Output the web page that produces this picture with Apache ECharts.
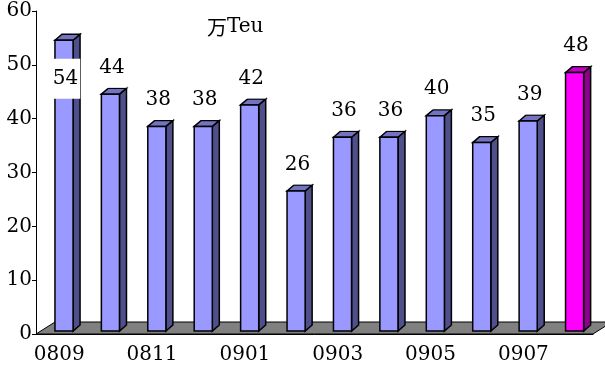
<!DOCTYPE html>
<html>
<head>
<meta charset="utf-8">
<script src="https://cdn.jsdelivr.net/npm/echarts@6/dist/echarts.min.js"></script>
<style>
  html, body { margin: 0; padding: 0; background: #fff; }
  #chart { width: 605px; height: 370px; }
</style>
</head>
<body>
<div id="chart"></div>
<script>
// Monthly container throughput (万Teu), Sep 2008 – Aug 2009
const categories = ['0809', '0810', '0811', '0812', '0901', '0902', '0903', '0904', '0905', '0906', '0907', '0908'];
const throughput = [54, 44, 38, 38, 42, 26, 36, 36, 40, 35, 39, 48];
const yTickValues = [0, 10, 20, 30, 40, 50, 60];

// Appearance
const FONT = 'DejaVu Serif';
const FONT_SIZE = 20;
const FONT_CJK = 'Noto Sans CJK SC';
const BAR_STYLE = { front: '#9999FF', side: '#4F4F8C', top: '#7373C2' };
const LATEST_STYLE = { front: '#FF00FF', side: '#8C008C', top: '#C400C4' };
const DEPTH_X = 7, DEPTH_Y = 6;            // extrusion of each column
const BAR_SHIFT_X = 4.8, BAR_SHIFT_Y = -3; // columns stand mid-way on the floor
const FLOOR_DX = 19, FLOOR_DY = 12;        // floor depth

function renderColumn(params, api) {
  const idx = api.value(0);
  const val = api.value(1);
  const base = api.coord([idx, 0]);
  const tip = api.coord([idx, val]);
  const bw = api.size([1, 0])[0] * 0.39;
  const st = idx === categories.length - 1 ? LATEST_STYLE : BAR_STYLE;

  const x0 = base[0] - bw / 2 + BAR_SHIFT_X;
  const x1 = x0 + bw;
  const yb = base[1] + BAR_SHIFT_Y;
  const yt = tip[1] + BAR_SHIFT_Y;
  const line = { stroke: '#000', lineWidth: 1.5, lineJoin: 'miter' };

  // the value floats above its column; if that would leave the plot, it sits inside
  const plotTop = params.coordSys.y;
  let ly = yt - 26.5;
  if (ly - 20 < plotTop) ly = yt + 38.5;

  return {
    type: 'group',
    children: [
      { type: 'polygon', shape: { points: [[x1, yt], [x1 + DEPTH_X, yt - DEPTH_Y], [x1 + DEPTH_X, yb - DEPTH_Y], [x1, yb]] },
        style: Object.assign({ fill: st.side }, line) },
      { type: 'polygon', shape: { points: [[x0, yt], [x0 + DEPTH_X, yt - DEPTH_Y], [x1 + DEPTH_X, yt - DEPTH_Y], [x1, yt]] },
        style: Object.assign({ fill: st.top }, line) },
      { type: 'rect', shape: { x: x0, y: yt, width: bw, height: yb - yt },
        style: Object.assign({ fill: st.front }, line) },
      { type: 'text', z2: 50,
        style: {
          text: String(val), x: x0 + bw / 2 + 1.5, y: ly,
          align: 'center', verticalAlign: 'middle',
          fill: '#000', fontFamily: FONT, fontSize: FONT_SIZE,
          backgroundColor: '#fff', padding: [10, 2]
        } }
    ]
  };
}

function renderFloor(params, api) {
  const cs = params.coordSys;
  const y0 = api.coord([0, 0])[1];
  const l = cs.x, r = cs.x + cs.width;
  return {
    type: 'polygon',
    shape: { points: [[l, y0], [l + FLOOR_DX, y0 - FLOOR_DY], [r + FLOOR_DX, y0 - FLOOR_DY], [r, y0]] },
    style: { fill: '#808080', stroke: '#000', lineWidth: 1 }
  };
}

const option = {
  animation: false,
  backgroundColor: '#fff',
  title: {
    text: '{c|万}{t|Teu}', left: 202, top: 12,
    textStyle: {
      rich: {
        c: { fontFamily: FONT_CJK, fontSize: 20, fontWeight: 'normal', color: '#000' },
        t: { fontFamily: FONT, fontSize: FONT_SIZE, fontWeight: 'normal', color: '#000' }
      }
    }
  },
  grid: { left: 36, right: 12, top: 11, bottom: 36, containLabel: false },
  xAxis: {
    type: 'category', data: categories, z: 3,
    axisLine: { lineStyle: { color: '#000', width: 1 } },
    axisTick: { inside: true, length: 5, interval: 0, lineStyle: { color: '#000' } },
    axisLabel: { interval: 1, margin: 11, color: '#000', fontFamily: FONT, fontSize: FONT_SIZE },
    splitLine: { show: false }
  },
  yAxis: {
    type: 'value', min: yTickValues[0], max: yTickValues[yTickValues.length - 1], interval: 10,
    axisLine: { show: true, lineStyle: { color: '#000', width: 1 } },
    axisTick: { show: true, length: 4, lineStyle: { color: '#000' } },
    axisLabel: { margin: 4, color: '#000', fontFamily: FONT, fontSize: FONT_SIZE },
    splitLine: { show: false }
  },
  series: [
    { type: 'custom', name: 'floor', z: 1, silent: true, clip: false,
      renderItem: renderFloor, data: [[0, 0]], encode: { x: 0, y: 1 } },
    { type: 'custom', name: '吞吐量', z: 2, clip: false,
      renderItem: renderColumn,
      data: throughput.map((v, i) => [i, v]), encode: { x: 0, y: 1 } }
  ]
};

const chart = echarts.init(document.getElementById('chart'), null, { renderer: 'canvas' });
chart.setOption(option);
</script>
</body>
</html>
